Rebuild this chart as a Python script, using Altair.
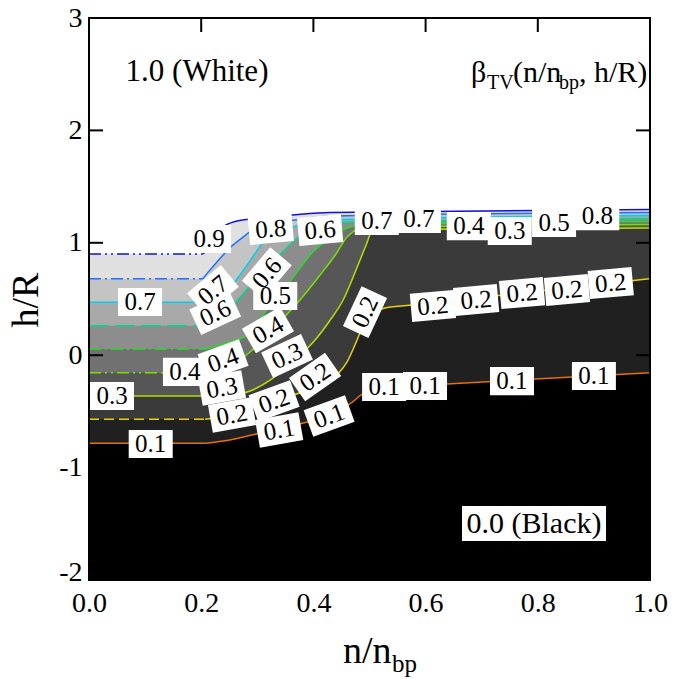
import altair as alt
import pandas as pd

W, H = 561, 562
FONT = "Liberation Serif"

# contour levels of beta_TV and their line colours
levels = [0.1, 0.2, 0.3, 0.4, 0.5, 0.6, 0.7, 0.8, 0.9]
line_colors = ["#e8700a", "#e6d200", "#b4e000", "#78e000", "#28dc28",
               "#00d890", "#00d0e8", "#2070ff", "#1010e0"]
# grey fill of the band lying above each level (index 0 = below 0.1)
band_grays = ["#000000", "#202020", "#3a3a3a", "#565656", "#717171",
              "#8d8d8d", "#a9a9a9", "#c4c4c4", "#e0e0e0", "#ffffff"]
# dash pattern of the flat low-density part of each contour
left_dash = [[1, 0], [10, 5], [1, 0], [12, 4, 2, 4, 2, 4], [12, 4, 2, 4],
             [20, 6], [1, 0], [12, 4, 2, 4], [12, 4, 2, 4, 2, 4]]

# contour lines: h/R as a function of n/n_bp
x_01 = [0.0, 0.207, 0.251, 0.305, 0.376, 0.430, 0.465, 0.488, 0.519, 0.638, 1.0]
h_01 = [-0.784, -0.784, -0.754, -0.692, -0.612, -0.532, -0.434, -0.345, -0.292, -0.256, -0.156]
x_02 = [0.0, 0.207, 0.251, 0.292, 0.340, 0.399, 0.442, 0.460, 0.474, 0.487, 0.501, 0.528, 0.578, 1.0]
h_02 = [-0.570, -0.570, -0.532, -0.461, -0.390, -0.292, -0.176, -0.060, 0.091, 0.242, 0.349, 0.420, 0.447, 0.681]
x_03 = [0.0, 0.207, 0.275, 0.323, 0.367, 0.403, 0.430, 0.453, 0.476, 0.494, 0.504, 0.537, 1.0]
h_03 = [-0.363, -0.363, -0.336, -0.221, -0.043, 0.135, 0.313, 0.491, 0.758, 0.980, 1.096, 1.118, 1.132]
x_04 = [0.0, 0.207, 0.246, 0.287, 0.324, 0.376, 0.412, 0.439, 0.460, 0.483, 0.537, 1.0]
h_04 = [-0.156, -0.156, -0.114, 0.028, 0.215, 0.491, 0.714, 0.891, 1.052, 1.123, 1.141, 1.163]
x_05 = [0.0, 0.207, 0.251, 0.282, 0.310, 0.358, 0.399, 0.430, 0.456, 0.492, 1.0]
h_05 = [0.055, 0.055, 0.117, 0.180, 0.358, 0.651, 0.918, 1.043, 1.123, 1.158, 1.189]
x_06 = [0.0, 0.207, 0.257, 0.299, 0.340, 0.371, 0.399, 0.447, 1.0]
h_06 = [0.262, 0.262, 0.447, 0.687, 0.891, 1.043, 1.132, 1.181, 1.216]
x_07 = [0.0, 0.207, 0.255, 0.282, 0.310, 0.340, 0.376, 0.430, 1.0]
h_07 = [0.471, 0.471, 0.625, 0.802, 0.998, 1.096, 1.158, 1.203, 1.243]
x_08 = [0.0, 0.203, 0.228, 0.251, 0.275, 0.291, 0.323, 0.367, 0.430, 1.0]
h_08 = [0.681, 0.681, 0.829, 0.954, 1.052, 1.114, 1.167, 1.203, 1.238, 1.270]
x_09 = [0.0, 0.203, 0.210, 0.221, 0.239, 0.264, 0.287, 0.362, 0.430, 1.0]
h_09 = [0.900, 0.900, 0.936, 1.043, 1.141, 1.194, 1.212, 1.247, 1.270, 1.296]

contour_x = [x_01, x_02, x_03, x_04, x_05, x_06, x_07, x_08, x_09]
contour_h = [h_01, h_02, h_03, h_04, h_05, h_06, h_07, h_08, h_09]

# in-line contour labels: text, position and counter-clockwise tilt (degrees)
lab_text = ["0.9", "0.8", "0.6", "0.7", "0.7", "0.4", "0.3", "0.5", "0.8",
            "0.7", "0.7", "0.6", "0.6", "0.5", "0.4", "0.3", "0.4", "0.4",
            "0.3", "0.3", "0.2", "0.2", "0.2", "0.1", "0.1", "0.1", "0.2",
            "0.1", "0.1", "0.1", "0.1", "0.2", "0.2", "0.2", "0.2", "0.2"]
lab_x = [0.214, 0.324, 0.412, 0.513, 0.588, 0.677, 0.750, 0.829, 0.906,
         0.091, 0.221, 0.317, 0.225, 0.332, 0.319, 0.353, 0.171, 0.239,
         0.041, 0.237, 0.255, 0.330, 0.403, 0.339, 0.428, 0.110, 0.492,
         0.526, 0.599, 0.754, 0.900, 0.613, 0.690, 0.772, 0.852, 0.930]
lab_h = [1.034, 1.123, 1.114, 1.194, 1.212, 1.149, 1.105, 1.176, 1.238,
         0.473, 0.580, 0.731, 0.375, 0.527, 0.224, -0.007, -0.149, -0.043,
         -0.363, -0.292, -0.532, -0.407, -0.194, -0.665, -0.541, -0.790, 0.384,
         -0.283, -0.274, -0.230, -0.185, 0.438, 0.491, 0.553, 0.580, 0.642]
lab_rot = [0, 5, 5, 0, 0, 0, 0, 0, 0,
           0, 40, 50, 25, 0, 30, 25, 0, 20,
           0, 10, 10, 20, 35, 10, 20, 0, 65,
           0, 0, 0, 0, 5, 5, 5, 5, 5]

x_ticks = [0.0, 0.2, 0.4, 0.6, 0.8, 1.0]
y_ticks = [-2, -1, 0, 1, 2, 3]

# ---------------------------------------------------------------- encodings
xs = alt.Scale(domain=[0, 1], nice=False, zero=False)
ys = alt.Scale(domain=[-2, 3], nice=False, zero=False)
x_axis = alt.Axis(values=x_ticks, format=".1f", labelFont=FONT, labelFontSize=28,
                  labelColor="black", labelPadding=9, labelFlush=False,
                  labelOverlap=False, ticks=False, tickSize=0, domain=False,
                  grid=False, title=None)
# the lowest y label sits on its tick so it clears the x labels
y_axis = alt.Axis(values=y_ticks, labelExpr="'' + datum.value", labelFont=FONT,
                  labelFontSize=28, labelColor="black", labelPadding=7,
                  labelBaseline={"condition": {"test": "datum.value == -2",
                                               "value": "alphabetic"},
                                 "value": "middle"},
                  labelFlush=False, labelOverlap=False, ticks=False, tickSize=0,
                  domain=False, grid=False, title=None)
X = alt.X("x:Q", scale=xs, axis=x_axis)
Y = alt.Y("h:Q", scale=ys, axis=y_axis)

layers = []

# black background: region below the lowest contour
base = pd.DataFrame({"x": [0.0, 1.0], "h": [-2.0, -2.0]})
layers.append(alt.Chart(base).mark_area(color=band_grays[0], interpolate="linear")
              .encode(x=X, y=Y, y2=alt.datum(3)))

# grey bands: each contour filled upwards with the grey of the band above it
for k, (cx, ch) in enumerate(zip(contour_x, contour_h)):
    df = pd.DataFrame({"x": cx, "h": ch})
    layers.append(alt.Chart(df).mark_area(color=band_grays[k + 1], interpolate="monotone")
                  .encode(x=X, y=Y, y2=alt.datum(3)))

# contour lines: dashed flat part, solid bent part
for k, (cx, ch) in enumerate(zip(contour_x, contour_h)):
    left = pd.DataFrame({"x": cx[:2], "h": ch[:2]})
    right = pd.DataFrame({"x": cx[1:], "h": ch[1:]})
    layers.append(alt.Chart(left).mark_line(color=line_colors[k], strokeWidth=1.5,
                                            strokeDash=left_dash[k])
                  .encode(x=X, y=Y))
    layers.append(alt.Chart(right).mark_line(color=line_colors[k], strokeWidth=1.5,
                                             interpolate="monotone")
                  .encode(x=X, y=Y))

# label boxes and texts
labels = pd.DataFrame({"x": lab_x, "h": lab_h, "text": lab_text,
                       "angle": [(360 - r) % 360 for r in lab_rot]})
box_path = "M-1,-0.64L1,-0.64L1,0.64L-1,0.64Z"
layers.append(alt.Chart(labels).mark_point(shape=box_path, filled=True, fill="white",
                                           stroke=None, opacity=1, size=44 * 44)
              .encode(x=X, y=Y, angle=alt.Angle("angle:Q", scale=None)))
layers.append(alt.Chart(labels).mark_text(font=FONT, fontSize=25, color="black",
                                          baseline="middle", align="center")
              .encode(x=X, y=Y, text="text:N", angle=alt.Angle("angle:Q", scale=None)))

# annotations inside the frame
one = pd.DataFrame({"t": ["1.0 (White)"]})
layers.append(alt.Chart(one).mark_text(font=FONT, fontSize=31, color="black",
                                       align="center", baseline="middle")
              .encode(x=alt.value(108), y=alt.value(54), text="t:N"))

beta_parts = pd.DataFrame({
    "t": ["\u03b2", "TV", "(n/n", "bp", ", h/R)"],
    "px": [382, 398, 424, 470, 490],
    "py": [64, 71, 64, 71, 64],
    "fs": [30, 20, 30, 20, 30],
})
for _, r in beta_parts.iterrows():
    d = pd.DataFrame({"t": [r["t"]]})
    layers.append(alt.Chart(d).mark_text(font=FONT, fontSize=int(r["fs"]), color="black",
                                         align="left", baseline="alphabetic")
                  .encode(x=alt.value(int(r["px"])), y=alt.value(int(r["py"])), text="t:N"))

black_box = pd.DataFrame({"t": ["0.0 (Black)"]})
layers.append(alt.Chart(black_box).mark_rect(color="white")
              .encode(x=alt.value(373), x2=alt.value(517), y=alt.value(488), y2=alt.value(523)))
layers.append(alt.Chart(black_box).mark_text(font=FONT, fontSize=30, color="black",
                                             align="center", baseline="middle")
              .encode(x=alt.value(445), y=alt.value(506), text="t:N"))

# frame and inward ticks
frame = pd.DataFrame({"a": [0]})
layers.append(alt.Chart(frame).mark_rect(filled=False, stroke="black", strokeWidth=2)
              .encode(x=alt.value(0), x2=alt.value(W), y=alt.value(0), y2=alt.value(H)))
xt = pd.DataFrame({"x": x_ticks[1:-1]})
yt = pd.DataFrame({"h": y_ticks[1:-1]})
TL = 14
layers.append(alt.Chart(xt).mark_rule(color="black", strokeWidth=2)
              .encode(x=X, y=alt.value(0), y2=alt.value(TL)))
layers.append(alt.Chart(xt).mark_rule(color="black", strokeWidth=2)
              .encode(x=X, y=alt.value(H - TL), y2=alt.value(H)))
layers.append(alt.Chart(yt).mark_rule(color="black", strokeWidth=2)
              .encode(y=Y, x=alt.value(0), x2=alt.value(TL)))
layers.append(alt.Chart(yt).mark_rule(color="black", strokeWidth=2)
              .encode(y=Y, x=alt.value(W - TL), x2=alt.value(W)))

# axis titles
ht = pd.DataFrame({"t": ["h/R"]})
layers.append(alt.Chart(ht).mark_text(font=FONT, fontSize=38, color="black",
                                      align="center", baseline="middle", angle=270)
              .encode(x=alt.value(-62), y=alt.value(282), text="t:N"))
nt = pd.DataFrame({"t": ["n/n"]})
layers.append(alt.Chart(nt).mark_text(font=FONT, fontSize=38, color="black",
                                      align="left", baseline="alphabetic")
              .encode(x=alt.value(254), y=alt.value(645), text="t:N"))
bt = pd.DataFrame({"t": ["bp"]})
layers.append(alt.Chart(bt).mark_text(font=FONT, fontSize=25, color="black",
                                      align="left", baseline="alphabetic")
              .encode(x=alt.value(303), y=alt.value(654), text="t:N"))

chart = (
    alt.layer(*layers)
    .properties(width=W, height=H,
                padding={"left": 89, "top": 18, "right": 23, "bottom": 99},
                autosize=alt.AutoSizeParams(type="none"),
                background="white")
    .configure(font=FONT)
    .configure_axis(labelFont=FONT)
    .configure_text(font=FONT)
    .configure_view(stroke=None)
)

chart.save("out.html", embed_options={"renderer": "svg", "actions": False})
